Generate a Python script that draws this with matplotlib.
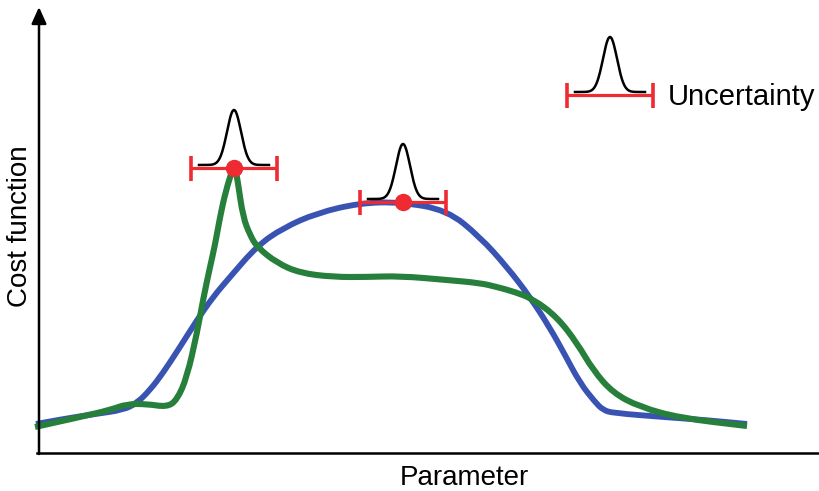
import numpy as np
import matplotlib
matplotlib.use('Agg')
import matplotlib.pyplot as plt
from matplotlib.path import Path
from matplotlib.patches import PathPatch

plt.rcParams['font.family'] = ['Liberation Sans', 'DejaVu Sans']

# blue curve (parameter, cost)
blue_x = [-3, 24, 56, 84, 98, 111, 124, 141, 158, 174, 191, 218, 244, 278, 321, 361,
          408, 441, 468, 491, 511, 526, 541, 556, 564, 574, 624, 666, 708]
blue_y = [29, 34, 39, 43, 50, 63, 80, 106, 133, 156, 176, 207, 225, 240, 250, 251,
          243, 216, 186, 156, 125, 98, 70, 51, 43, 40, 36, 33, 29]

# green curve (parameter, cost)
green_x = [-4, 41, 71, 88, 108, 128, 138, 148, 158, 164, 171, 176, 181, 187, 194, 195, 197,
           199, 204, 211, 218, 238, 261, 294, 328, 361, 408, 441, 458, 476, 494, 518, 538,
           554, 574, 601, 641, 708]
green_y = [26, 36, 43, 49, 49, 46, 53, 76, 120, 153, 186, 208, 236, 263, 285, 287, 281,
           270, 236, 218, 206, 190, 180, 176, 176, 177, 173, 170, 166, 161, 154, 136, 110,
           83, 60, 46, 35, 27]

# uncertainty markers
unc_x = [195, 364]
unc_y = [285, 251]
unc_err = 43
legend_pos = (571, 358)

blue = '#3953b2'
green = '#26803b'
red = '#ee2a33'

fig = plt.figure(figsize=(8.2, 4.91), dpi=100)
ax = fig.add_axes([39/820, 38/491, 781/820, 446/491])
ax.set_xlim(0, 781)
ax.set_ylim(0, 446)
ax.axis('off')


def smooth_line(xs, ys, color, lw, z):
    # read points used as quadratic bezier control points, drawn by the Path renderer
    pts = list(zip(xs, ys))
    verts = [pts[0]]
    codes = [Path.MOVETO]
    for i in range(1, len(pts) - 1):
        mid = ((pts[i][0] + pts[i + 1][0]) / 2, (pts[i][1] + pts[i + 1][1]) / 2)
        verts += [pts[i], mid]
        codes += [Path.CURVE3, Path.CURVE3]
    verts.append(pts[-1])
    codes.append(Path.LINETO)
    patch = PathPatch(Path(verts, codes), facecolor='none', edgecolor=color, lw=lw,
                      capstyle='butt', joinstyle='round', zorder=z, clip_on=False)
    ax.add_patch(patch)


smooth_line(blue_x, blue_y, blue, 4.2, 2)
smooth_line(green_x, green_y, green, 4.4, 3)

# axes lines
ax.plot([-2, 790], [0, 0], color='black', lw=1.8, clip_on=False)
ax.annotate('', xy=(0, 446), xytext=(0, -1), xycoords='data',
            arrowprops=dict(arrowstyle='-|>,head_length=1.0,head_width=0.45',
                            color='black', lw=1.8, shrinkA=0, shrinkB=0),
            annotation_clip=False)


def bump(cx, cy):
    gx = np.linspace(-35, 35, 141)
    gy = cy + 3 + 55 * np.exp(-gx**2 / (2 * 7.0**2))
    ax.plot(cx + gx, gy, color='black', lw=1.8, zorder=4)


for cx, cy in zip(unc_x, unc_y):
    bump(cx, cy)
    ax.errorbar(cx, cy, xerr=unc_err, fmt='o', color=red, ms=11.5, elinewidth=2.3,
                capsize=9, capthick=2.6, zorder=5)

bump(*legend_pos)
ax.errorbar(legend_pos[0], legend_pos[1], xerr=unc_err, fmt='none', ecolor=red,
            elinewidth=2.3, capsize=9, capthick=2.6, zorder=5)
ax.text(668 - 39, 453 - 97, 'Uncertainty', fontsize=21, va='center', ha='left')

fig.text(464/820, 1 - 478/491, 'Parameter', fontsize=20, ha='center', va='center')
fig.text(20/820, 1 - 226/491, 'Cost function', fontsize=20, ha='center', va='center',
         rotation=90)

fig.savefig('out.png', dpi=100)
